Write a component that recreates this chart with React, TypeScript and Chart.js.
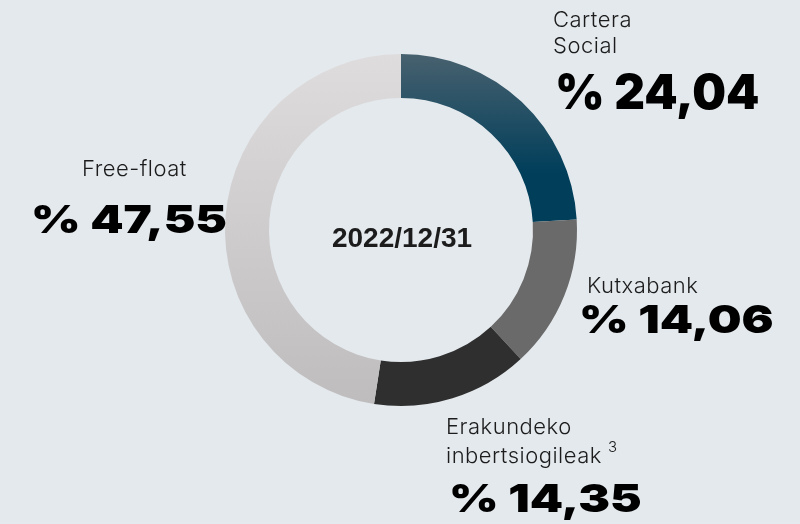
import React, { useEffect, useRef } from "react";
import { Chart, registerables } from "chart.js";

Chart.register(...registerables);

const categories = ["Cartera Social", "Kutxabank", "Erakundeko inbertsiogileak", "Free-float"];
const shares = [24.04, 14.06, 14.35, 47.55];
const centerLabel = "2022/12/31";

const BG = "#e4e9ed";

const fmt = (v: number) => "% " + v.toFixed(2).replace(".", ",");

type TxtProps = {
  text: React.ReactNode;
  left: number;
  baseline: number;
  size: number;
  family: string;
  weight: number;
  asc: number;
  color?: string;
  sx?: number;
  sy?: number;
  ls?: number;
  center?: boolean;
};

function Txt({ text, left, baseline, size, family, weight, asc, color = "#1c1c1c", sx = 1, sy = 1, ls = 0, center = false }: TxtProps) {
  const top = baseline - asc * size * sy;
  return (
    <div
      style={{
        position: "absolute",
        left,
        top,
        fontFamily: family,
        fontWeight: weight,
        fontSize: size,
        lineHeight: `${size}px`,
        color,
        whiteSpace: "nowrap",
        letterSpacing: ls,
        transform: center ? `translateX(-50%) scale(${sx}, ${sy})` : `scale(${sx}, ${sy})`,
        transformOrigin: center ? "center top" : "left top",
      }}
    >
      {text}
    </div>
  );
}

const LIGHT = "Inter";
const LIGHT_ASC = 0.863;
const LS = 22; // label size
const LLS = 0.5; // label letter spacing
const BOLD = "Inter";
const BOLD_ASC = 0.863;
const NS = 39; // number size
const NSX = 1.22;

export default function App() {
  const ref = useRef<HTMLCanvasElement | null>(null);

  useEffect(() => {
    document.body.style.margin = "0";
    const canvas = ref.current;
    if (!canvas) return;
    const chart = new Chart(canvas, {
      type: "doughnut",
      data: {
        labels: categories,
        datasets: [
          {
            data: shares,
            borderWidth: 0,
            backgroundColor: (ctx: any) => {
              const c = ctx.chart;
              const area = c.chartArea;
              const i = ctx.dataIndex;
              if (!area) return "#888";
              const g = c.ctx;
              if (i === 0) {
                const gr = g.createLinearGradient(0, area.top, 0, area.top + 120);
                gr.addColorStop(0, "#48616f");
                gr.addColorStop(1, "#003e5a");
                return gr;
              }
              if (i === 1) return "#6a6a6a";
              if (i === 2) return "#2f2f2f";
              const gr = g.createLinearGradient(0, area.top, 0, area.bottom);
              gr.addColorStop(0, "#dedcdd");
              gr.addColorStop(1, "#bebcbd");
              return gr;
            },
          },
        ],
      },
      options: {
        responsive: false,
        animation: false,
        devicePixelRatio: 1,
        cutout: "75%",
        layout: { padding: { left: 225, right: 223, top: 54, bottom: 118 } },
        plugins: { legend: { display: false }, tooltip: { enabled: false } },
      },
    });
    return () => chart.destroy();
  }, []);

  return (
    <div style={{ position: "relative", width: 800, height: 524, background: BG, overflow: "hidden" }}>
      <canvas ref={ref} width={800} height={524} style={{ position: "absolute", left: 0, top: 0 }} />
      <Txt text={"Cartera"} left={553} baseline={27} size={LS} family={LIGHT} weight={300} asc={LIGHT_ASC} ls={LLS} />
      <Txt text={"Social"} left={553} baseline={53} size={LS} family={LIGHT} weight={300} asc={LIGHT_ASC} ls={LLS} />
      <Txt text={fmt(shares[0])} left={555} baseline={108} size={NS} family={BOLD} weight={900} asc={BOLD_ASC} color="#000" sx={NSX} sy={1.25} />

      <Txt text={"Free-float"} left={82} baseline={176} size={LS} family={LIGHT} weight={300} asc={LIGHT_ASC} ls={LLS} />
      <Txt text={fmt(shares[3])} left={31} baseline={233} size={NS} family={BOLD} weight={900} asc={BOLD_ASC} color="#000" sx={NSX} />

      <Txt text={"Kutxabank"} left={587} baseline={293} size={LS} family={LIGHT} weight={300} asc={LIGHT_ASC} ls={LLS} />
      <Txt text={fmt(shares[1])} left={579} baseline={333} size={NS} family={BOLD} weight={900} asc={BOLD_ASC} color="#000" sx={NSX} />

      <Txt text={"Erakundeko"} left={446} baseline={434} size={LS} family={LIGHT} weight={300} asc={LIGHT_ASC} ls={LLS} />
      <Txt
        text={<>inbertsiogileak<span style={{ fontSize: 15, position: "relative", top: -11, marginLeft: 6 }}>3</span></>}
        left={446}
        baseline={463}
        size={LS}
        family={LIGHT}
        weight={300}
        asc={LIGHT_ASC}
        ls={LLS}
      />
      <Txt text={fmt(shares[2])} left={449} baseline={512} size={NS} family={BOLD} weight={900} asc={BOLD_ASC} color="#000" sx={NSX} />

      <Txt text={centerLabel} left={402} baseline={248} size={28} family={"'Liberation Sans'"} weight={700} asc={0.8465} center />
    </div>
  );
}
